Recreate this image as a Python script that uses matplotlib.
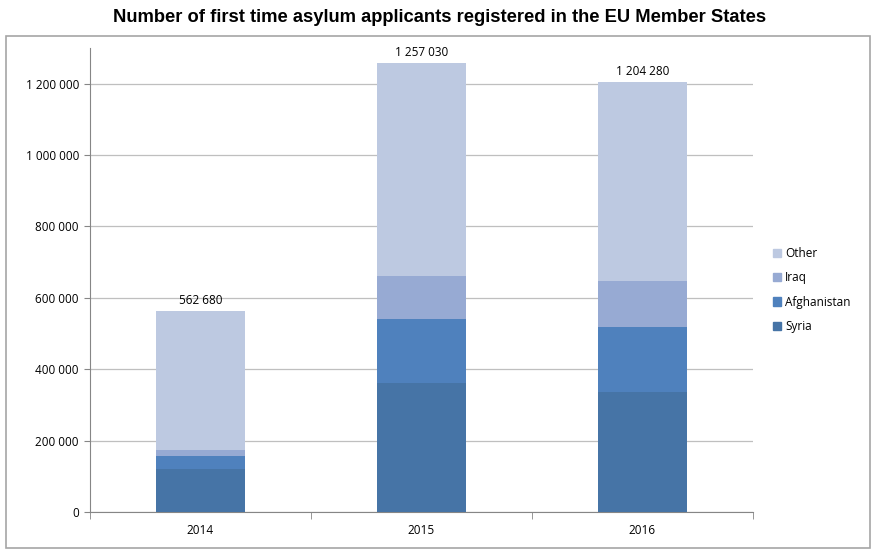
import numpy as np
import matplotlib

matplotlib.use("Agg")
import matplotlib.pyplot as plt
from matplotlib.patches import Rectangle, Patch
from matplotlib.ticker import FuncFormatter

years = ["2014", "2015", "2016"]
syria = [120000, 362000, 336000]
afghanistan = [37000, 178000, 183000]
iraq = [16000, 122000, 127000]
totals = [562680, 1257030, 1204280]
other = [t - s - a - i for t, s, a, i in zip(totals, syria, afghanistan, iraq)]

colors = {
    "Syria": "#4674A6",
    "Afghanistan": "#4F81BD",
    "Iraq": "#97AAD3",
    "Other": "#BDC9E1",
}

plt.rcParams["font.family"] = ["Open Sans", "DejaVu Sans"]

fig = plt.figure(figsize=(8.78, 5.56), dpi=100)
ax = fig.add_axes([90 / 878, 44 / 556, 663 / 878, 464 / 556])

# outer chart frame
fig.patches.append(Rectangle((6 / 878, 8 / 556), 864 / 878, 512 / 556,
                             transform=fig.transFigure, fill=False,
                             edgecolor="#A6A6A6", linewidth=1.2))

x = np.arange(len(years))
w = 0.4
bottom = np.zeros(len(years))
for name, vals in [("Syria", syria), ("Afghanistan", afghanistan),
                   ("Iraq", iraq), ("Other", other)]:
    ax.bar(x, vals, w, bottom=bottom, color=colors[name], zorder=3, label=name)
    bottom += np.array(vals)

for xi, t in zip(x, totals):
    ax.text(xi, t + 12000, f"{t:,}".replace(",", " "), ha="center",
            va="bottom", fontsize=8.5)

ax.set_xlim(-0.5, 2.5)
ax.set_ylim(0, 1300000)
ax.set_yticks(np.arange(0, 1200001, 200000))
ax.yaxis.set_major_formatter(FuncFormatter(lambda v, p: f"{int(v):,}".replace(",", " ")))
ax.grid(axis="y", color="#BFBFBF", linewidth=0.9, zorder=0)
ax.set_xticks(x)
ax.set_xticklabels(years)
ax.set_xticks([-0.5, 0.5, 1.5, 2.5], minor=True)
ax.tick_params(axis="x", which="major", length=0, pad=9, labelsize=8.5)
ax.tick_params(axis="x", which="minor", length=5, color="#868686")
ax.tick_params(axis="y", length=4, color="#868686", labelsize=8.5, pad=4)
for s in ["top", "right"]:
    ax.spines[s].set_visible(False)
for s in ["left", "bottom"]:
    ax.spines[s].set_color("#868686")

handles = [Patch(color=colors[n]) for n in ["Other", "Iraq", "Afghanistan", "Syria"]]
fig.legend(handles, ["Other", "Iraq", "Afghanistan", "Syria"],
           loc="center left", bbox_to_anchor=(762 / 878, 1 - 290 / 556),
           frameon=False, fontsize=8.5, handlelength=0.7, handleheight=0.7,
           handletextpad=0.35, labelspacing=0.95)

fig.text(440 / 878, 1 - 18 / 556,
         "Number of first time asylum applicants registered in the EU Member States",
         ha="center", va="center", fontsize=13.2, fontweight="bold",
         family=["Liberation Sans Narrow", "Liberation Sans", "DejaVu Sans"])

plt.savefig("out.png", dpi=100)
